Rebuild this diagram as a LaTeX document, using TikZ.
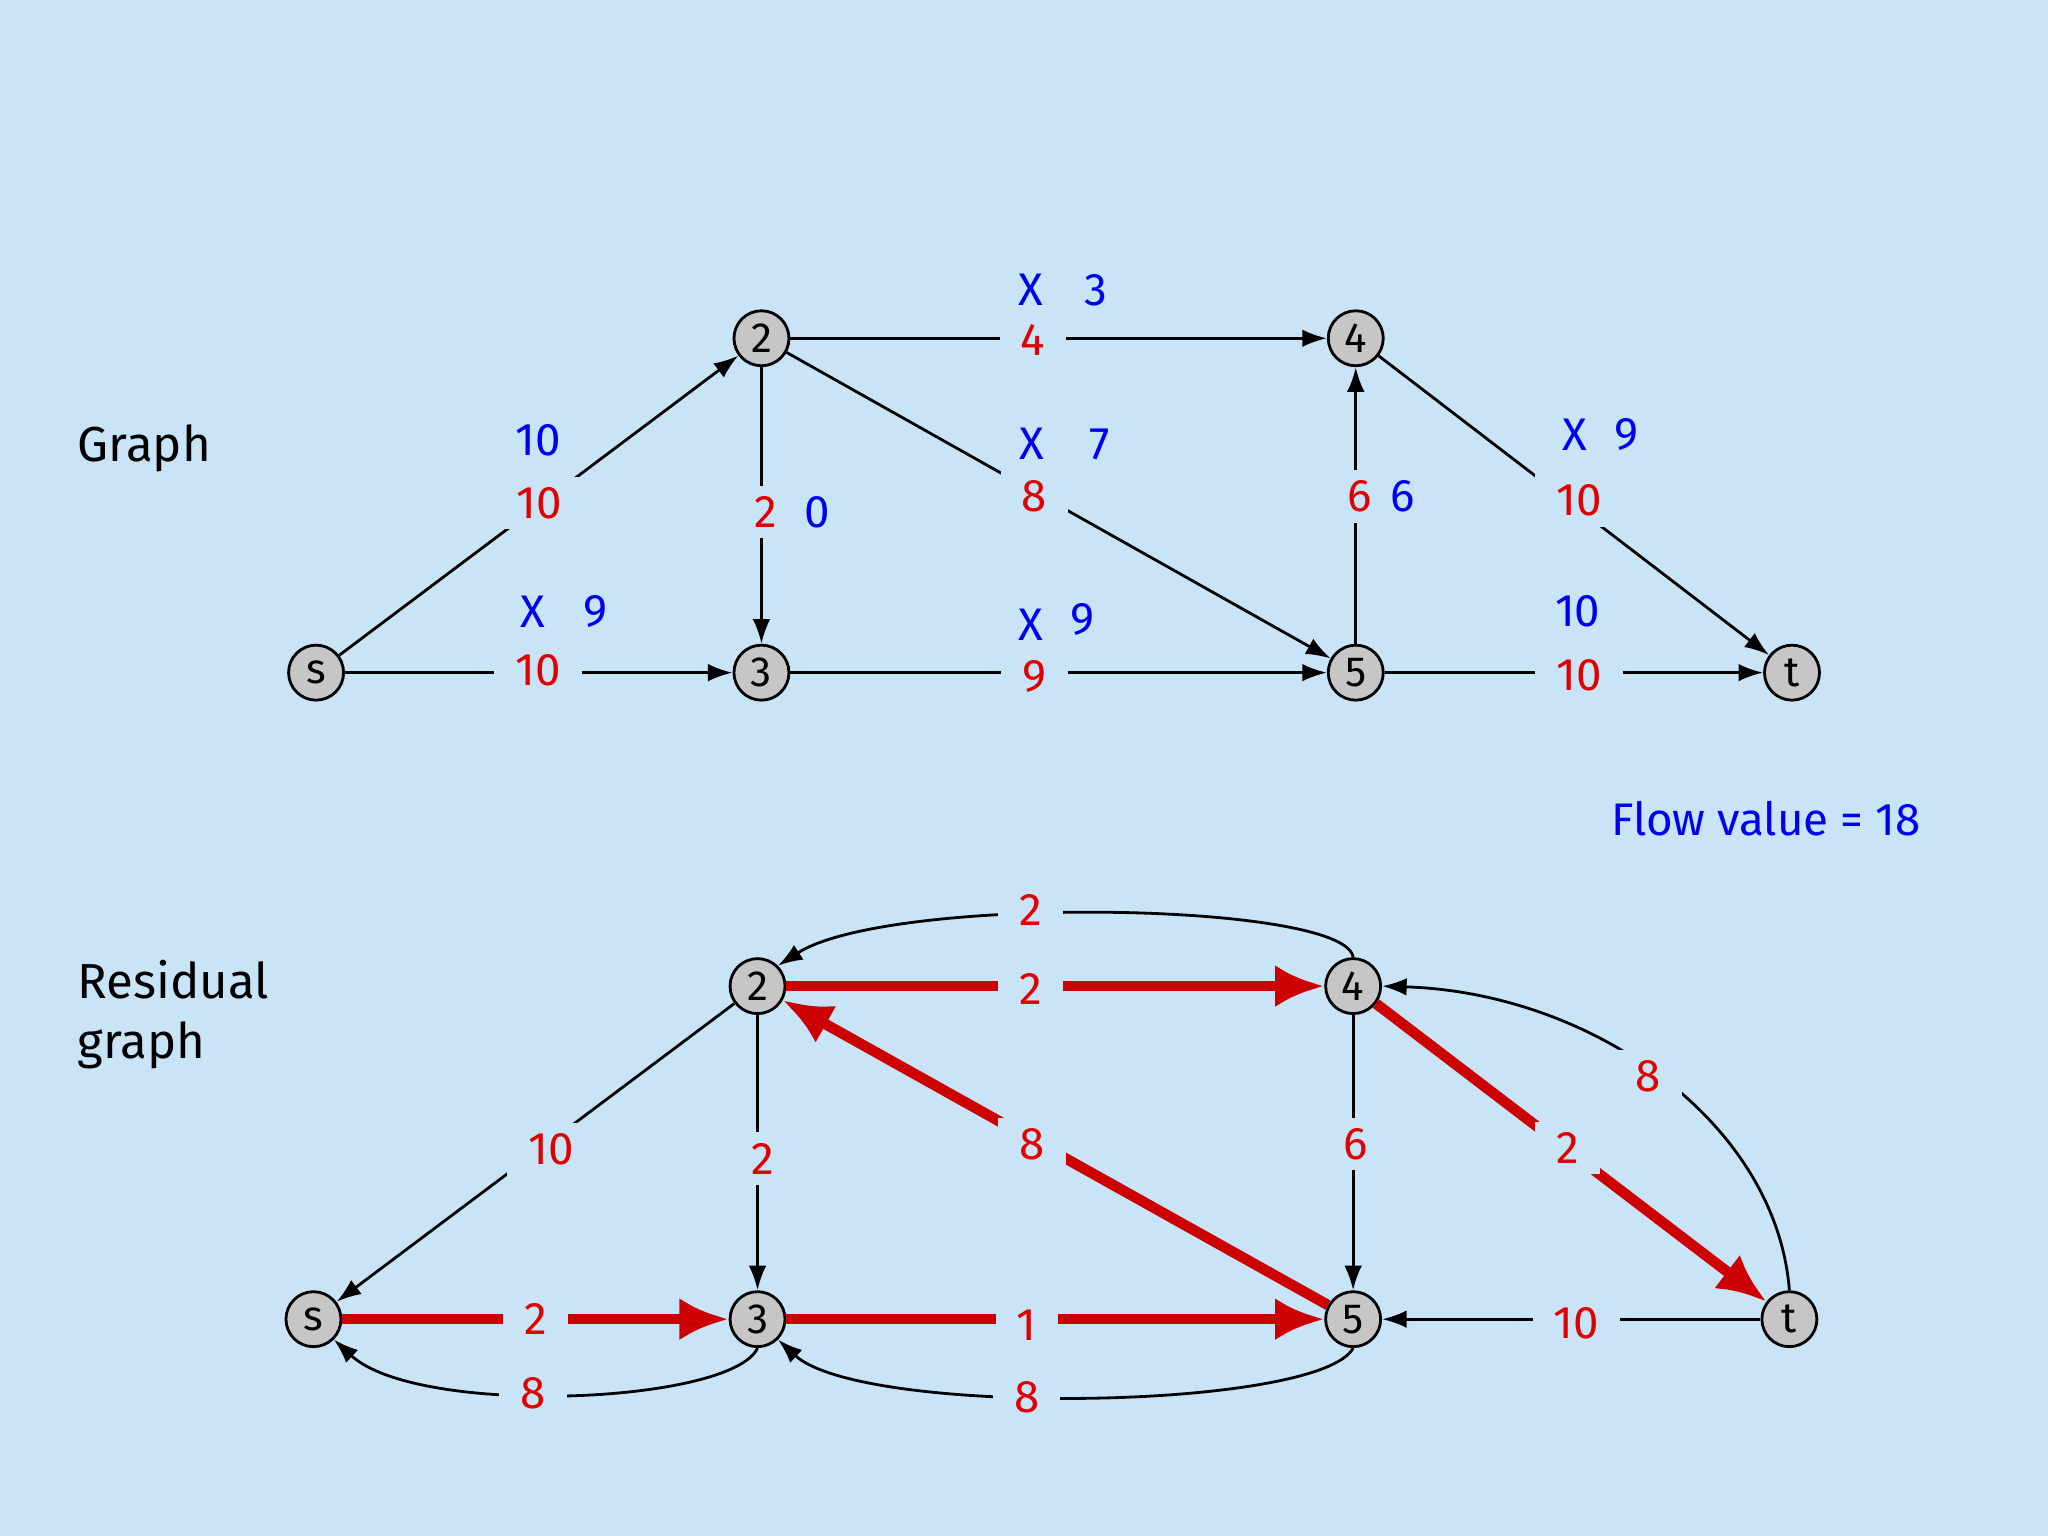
\documentclass[tikz,border=0pt]{standalone}
\usepackage{fontspec}
\setmainfont{Fira Sans}
\usetikzlibrary{arrows.meta}
\definecolor{bg}{HTML}{C9E3F7}
\definecolor{rd}{HTML}{E00000}
\definecolor{thk}{HTML}{CC0000}
\definecolor{bl}{HTML}{0000EE}
\tikzset{
  vtx/.style={circle,draw,fill=gray!45,line width=0.8pt,minimum size=0.55cm,inner sep=0pt,font=\fontsize{12}{14}\selectfont},
  ed/.style={-{Latex[length=7pt,width=5pt]},line width=0.8pt},
  thick/.style={-{Latex[length=14pt,width=12pt]},line width=3pt,color=thk},
  rl/.style={text=rd,fill=bg,inner xsep=6pt,inner ysep=3pt,font=\fontsize{13}{15}\selectfont},
  bll/.style={text=bl,inner sep=1pt,font=\fontsize{13}{15}\selectfont},
  ttl/.style={anchor=west,align=left,font=\fontsize{14}{17}\selectfont}
}
\begin{document}
\begin{tikzpicture}[x=0.013061cm,y=-0.013061cm]
\fill[bg] (0,0) rectangle (1568,1176);
% top graph
\node[vtx] (s) at (242,515) {s};
\node[vtx] (a2) at (583,259) {2};
\node[vtx] (a3) at (583,515) {3};
\node[vtx] (a4) at (1038,259) {4};
\node[vtx] (a5) at (1038,515) {5};
\node[vtx] (t) at (1372,515) {t};
\draw[ed] (s) -- (a2);
\draw[ed] (s) -- (a3);
\draw[ed] (a2) -- (a3);
\draw[ed] (a2) -- (a4);
\draw[ed] (a2) -- (a5);
\draw[ed] (a3) -- (a5);
\draw[ed] (a5) -- (a4);
\draw[ed] (a4) -- (t);
\draw[ed] (a5) -- (t);
\node[rl] (l1) at (413,385) {10}; \node[bll] (b1) at (412,337) {10};
\node[rl] (l2) at (412,513) {10}; \node[bll] (b2) at (408,468) {X}; \node[bll] (b2b) at (456,468) {9};
\node[rl] (l3) at (586,392) {2}; \node[bll] (b3) at (626,392) {0};
\node[rl] (l4) at (791,260) {4}; \node[bll] (b4) at (789,222) {X}; \node[bll] (b4b) at (839,222) {3};
\node[rl] (l5) at (792,380) {8}; \node[bll] (b5) at (790,340) {X}; \node[bll] (b5b) at (842,340) {7};
\node[rl] (l6) at (792,518) {9}; \node[bll] (b6) at (789,478) {X}; \node[bll] (b6b) at (829,474) {9};
\node[rl] (l7) at (1041,380) {6}; \node[bll] (b7) at (1074,380) {6};
\node[rl] (l8) at (1209,383) {10}; \node[bll] (b8) at (1206,333) {X}; \node[bll] (b8b) at (1245,333) {9};
\node[rl] (l9) at (1209,517) {10}; \node[bll] (b9) at (1208,468) {10};
\node[ttl] (g) at (50,343) {Graph};
\node[bll] (fv) at (1352,627) {Flow value = 18};
% residual
\node[vtx] (rs) at (240,1010) {s};
\node[vtx] (r2) at (580,755) {2};
\node[vtx] (r3) at (580,1010) {3};
\node[vtx] (r4) at (1036,755) {4};
\node[vtx] (r5) at (1036,1010) {5};
\node[vtx] (rt) at (1370,1010) {t};
\draw[thick] (r2) -- (r4);
\draw[thick] (r5) -- (r2);
\draw[thick] (r4) -- (rt);
\draw[thick] (rs) -- (r3);
\draw[thick] (r3) -- (r5);
\draw[ed] (r4.north) .. controls (1030,690) and (680,685) .. (r2.north east);
\draw[ed] (r2) -- (rs);
\draw[ed] (r2) -- (r3);
\draw[ed] (r4) -- (r5);
\draw[ed] (rt.north) .. controls (1360,860) and (1220,760) .. (r4.east);
\draw[ed] (rt) -- (r5);
\draw[ed] (r3.south) .. controls (560,1075) and (320,1085) .. (rs.south east);
\draw[ed] (r5.south) .. controls (1010,1080) and (660,1085) .. (r3.south east);
\node[rl] (m1) at (789,697) {2};
\node[rl] (m2) at (789,757) {2};
\node[rl] (m3) at (422,880) {10};
\node[rl] (m4) at (584,887) {2};
\node[rl] (m5) at (790,876) {8};
\node[rl] (m6) at (1038,876) {6};
\node[rl] (m7) at (1200,879) {2};
\node[rl] (m8) at (1262,824) {8};
\node[rl] (m9) at (410,1010) {2};
\node[rl] (m10) at (786,1015) {1};
\node[rl] (m11) at (1207,1013) {10};
\node[rl] (m12) at (408,1067) {8};
\node[rl] (m13) at (786,1070) {8};
\node[ttl] (rg) at (50,777) {Residual\\graph};
\end{tikzpicture}
\end{document}
